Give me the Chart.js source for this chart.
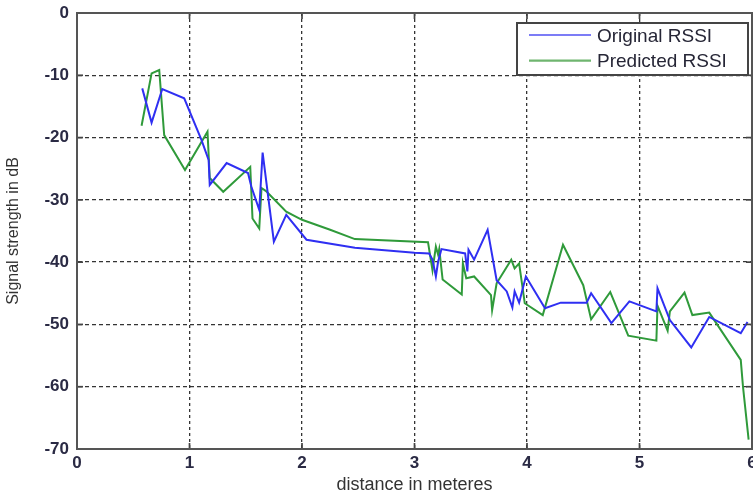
<!DOCTYPE html>
<html>
<head>
<meta charset="utf-8">
<script src="https://cdn.jsdelivr.net/npm/chart.js@4/dist/chart.umd.min.js"></script>
<style>
html,body{margin:0;padding:0;background:#fff;}
#wrap{position:relative;width:753px;height:497px;}
</style>
</head>
<body>
<div id="wrap"><canvas id="c"></canvas></div>
<script>
// ---- data ----
const seriesNames = ['Original RSSI', 'Predicted RSSI'];
const originalX = [0.58,0.663,0.758,0.953,1.107,1.17,1.18,1.33,1.52,1.55,1.62,1.65,1.75,1.86,2.04,2.47,3.0,3.13,3.16,3.19,3.21,3.24,3.45,3.47,3.48,3.53,3.65,3.73,3.82,3.87,3.89,3.93,3.99,4.16,4.30,4.53,4.57,4.75,4.91,5.15,5.16,5.27,5.46,5.62,5.90,5.96];
const originalY = [-12.1,-17.6,-12.2,-13.7,-20.4,-23.6,-27.6,-24.1,-25.7,-27.9,-31.6,-22.4,-36.7,-32.4,-36.4,-37.7,-38.5,-38.6,-39.6,-42.3,-39.9,-37.9,-38.6,-41.5,-38.0,-39.6,-34.8,-42.9,-44.7,-47.3,-44.7,-46.5,-42.3,-47.4,-46.5,-46.5,-45.0,-49.8,-46.3,-47.9,-44.2,-49.3,-53.7,-48.8,-51.4,-49.6];
const predictedX = [0.574,0.663,0.731,0.775,0.96,1.16,1.18,1.30,1.54,1.56,1.62,1.64,1.68,1.86,2.0,2.25,2.47,3.12,3.16,3.19,3.21,3.22,3.25,3.42,3.43,3.46,3.53,3.68,3.69,3.73,3.86,3.89,3.93,3.98,4.14,4.32,4.50,4.57,4.74,4.90,5.15,5.16,5.25,5.27,5.40,5.47,5.62,5.90,5.92,5.97];
const predictedY = [-18.1,-9.7,-9.15,-19.6,-25.2,-19.05,-26.5,-28.7,-24.7,-33.0,-34.6,-28.1,-28.6,-31.9,-33.2,-34.8,-36.3,-36.8,-41.3,-37.5,-38.8,-37.9,-42.8,-45.2,-40.2,-42.6,-42.3,-45.3,-47.7,-43.4,-39.6,-41.0,-40.2,-46.6,-48.5,-37.2,-43.7,-49.2,-44.8,-51.8,-52.6,-47.0,-51.0,-47.9,-44.9,-48.5,-48.1,-55.7,-60.0,-68.5];
const xTickLabels = ['0','1','2','3','4','5','6'];
const yTickLabels = ['-70','-60','-50','-40','-30','-20','-10','0'];
const xAxisTitle = 'distance in meteres';
const yAxisTitle = 'Signal strength in dB';

// ---- styling ----
const FONT = '"Liberation Sans", Arial, Helvetica, sans-serif';
const seriesColors = ['#2f2ff2', '#2f9a3a'];
const legendColors = ['#7c7cf6', '#6fb56f'];

const toPoints = (xs, ys) => xs.map((x, i) => ({x: x, y: ys[i]}));

const boxPlugin = {
  id: 'matlabBox',
  afterDatasetsDraw(chart) {
    const {ctx, chartArea: a, scales} = chart;
    const xs = scales.x, ys = scales.y;
    ctx.save();
    ctx.setLineDash([]);
    ctx.strokeStyle = '#444';
    ctx.lineWidth = 1.7;
    const seg = (x1, y1, x2, y2) => { ctx.beginPath(); ctx.moveTo(x1, y1); ctx.lineTo(x2, y2); ctx.stroke(); };
    xs.ticks.forEach(t => {
      const px = xs.getPixelForValue(t.value);
      seg(px, a.bottom, px, a.bottom - 6);
      seg(px, a.top, px, a.top + 6);
    });
    ys.ticks.forEach(t => {
      const py = ys.getPixelForValue(t.value);
      seg(a.left, py, a.left + 6, py);
      seg(a.right, py, a.right - 6, py);
    });
    ctx.lineWidth = 2;
    ctx.strokeStyle = '#555';
    ctx.strokeRect(a.left, a.top, a.right - a.left, a.bottom - a.top);

    // legend box (top-right, inside axes)
    const bw = 231, bh = 52;
    const bx = a.right - 235, by = a.top + 10;
    ctx.fillStyle = '#fff';
    ctx.fillRect(bx, by, bw, bh);
    ctx.strokeStyle = '#444';
    ctx.lineWidth = 2;
    ctx.strokeRect(bx, by, bw, bh);
    ctx.font = '19px ' + FONT;
    ctx.textBaseline = 'middle';
    ctx.textAlign = 'left';
    chart.data.datasets.forEach((ds, i) => {
      const ly = by + 12 + i * 25.7;
      ctx.strokeStyle = legendColors[i];
      ctx.lineWidth = 2.2;
      seg(bx + 12, ly, bx + 74, ly);
      ctx.fillStyle = '#262636';
      ctx.fillText(ds.label, bx + 80, ly + 1.5);
    });
    ctx.restore();
  }
};

new Chart(document.getElementById('c'), {
  type: 'scatter',
  data: {
    datasets: [
      {label: seriesNames[0], data: toPoints(originalX, originalY), showLine: true,
       borderColor: seriesColors[0], backgroundColor: seriesColors[0], borderWidth: 2, pointRadius: 0, tension: 0},
      {label: seriesNames[1], data: toPoints(predictedX, predictedY), showLine: true,
       borderColor: seriesColors[1], backgroundColor: seriesColors[1], borderWidth: 2, pointRadius: 0, tension: 0}
    ]
  },
  options: {
    responsive: true,
    maintainAspectRatio: false,
    animation: false,
    layout: {padding: {top: 13, right: 1, bottom: 0, left: 0}},
    plugins: {legend: {display: false}, tooltip: {enabled: false}},
    scales: {
      x: {
        type: 'linear', min: 0, max: 6,
        ticks: {stepSize: 1, autoSkip: false, maxRotation: 0, padding: 4, color: '#2a2a44',
                font: {family: FONT, size: 17, weight: 'bold'}, callback: (v, i) => xTickLabels[i]},
        grid: {color: 'rgba(30,30,30,0.9)', lineWidth: 1.3, drawTicks: false},
        border: {display: true, color: '#555', width: 2, dash: [3, 3]},
        title: {display: true, text: xAxisTitle, color: '#333', font: {family: FONT, size: 18},
                padding: {top: 0, bottom: 1}},
        afterFit(s) { s.height = 48; s.paddingLeft = 0; s.paddingRight = 0; }
      },
      y: {
        type: 'linear', min: -70, max: 0,
        ticks: {stepSize: 10, padding: 8, color: '#2a2a44',
                font: {family: FONT, size: 17, weight: 'bold'}, callback: (v, i) => yTickLabels[i]},
        grid: {color: 'rgba(30,30,30,0.9)', lineWidth: 1.3, drawTicks: false},
        border: {display: true, color: '#555', width: 2, dash: [4, 3]},
        title: {display: true, text: yAxisTitle, color: '#333', font: {family: FONT, size: 16},
                padding: {top: 4, bottom: 0}},
        afterFit(s) { s.width = 77; s.paddingTop = 0; s.paddingBottom = 0; }
      }
    }
  },
  plugins: [boxPlugin]
});
</script>
</body>
</html>
